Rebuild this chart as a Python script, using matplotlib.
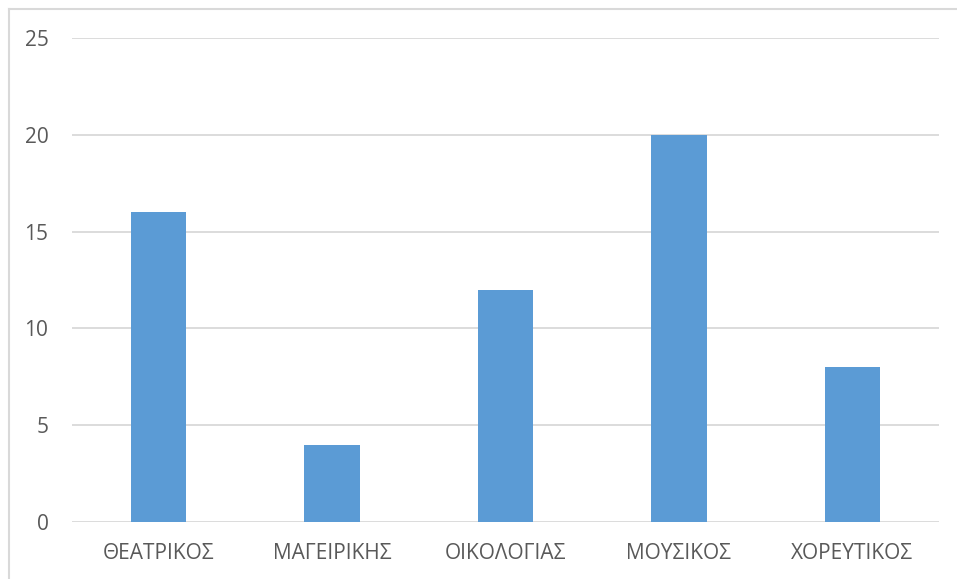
import matplotlib.pyplot as plt
from matplotlib.lines import Line2D

categories = ['ΘΕΑΤΡΙΚΟΣ', 'ΜΑΓΕΙΡΙΚΗΣ', 'ΟΙΚΟΛΟΓΙΑΣ', 'ΜΟΥΣΙΚΟΣ', 'ΧΟΡΕΥΤΙΚΟΣ']
values = [16, 4, 12, 20, 8]
yticks = [0, 5, 10, 15, 20, 25]

plt.rcParams['font.family'] = ['Open Sans', 'DejaVu Sans']
W, H = 957, 579
fig = plt.figure(figsize=(W / 100, H / 100), dpi=100)
ax = fig.add_axes([72 / W, 1 - 522 / H, (939 - 72) / W, (522 - 38) / H])

ax.bar(range(len(categories)), values, width=0.32, color='#5B9BD5', zorder=3)
ax.set_xlim(-0.5, len(categories) - 0.5)
ax.set_ylim(0, 25)
ax.set_yticks(yticks)
ax.set_xticks(range(len(categories)))
ax.set_xticklabels(categories)
ax.grid(axis='y', color='#D9D9D9', linewidth=1.3, zorder=0)
for s in ax.spines.values():
    s.set_visible(False)
ax.tick_params(length=0, labelsize=15, labelcolor='#595959')
ax.tick_params(axis='y', pad=17)
ax.tick_params(axis='x', pad=15)

# chart border (partially cropped)
fig.add_artist(Line2D([8.5 / W, 1], [1 - 8.5 / H, 1 - 8.5 / H], color='#D9D9D9', linewidth=1.5))
fig.add_artist(Line2D([8.5 / W, 8.5 / W], [0, 1 - 8.5 / H], color='#D9D9D9', linewidth=1.5))

fig.savefig('out.png', dpi=100)
